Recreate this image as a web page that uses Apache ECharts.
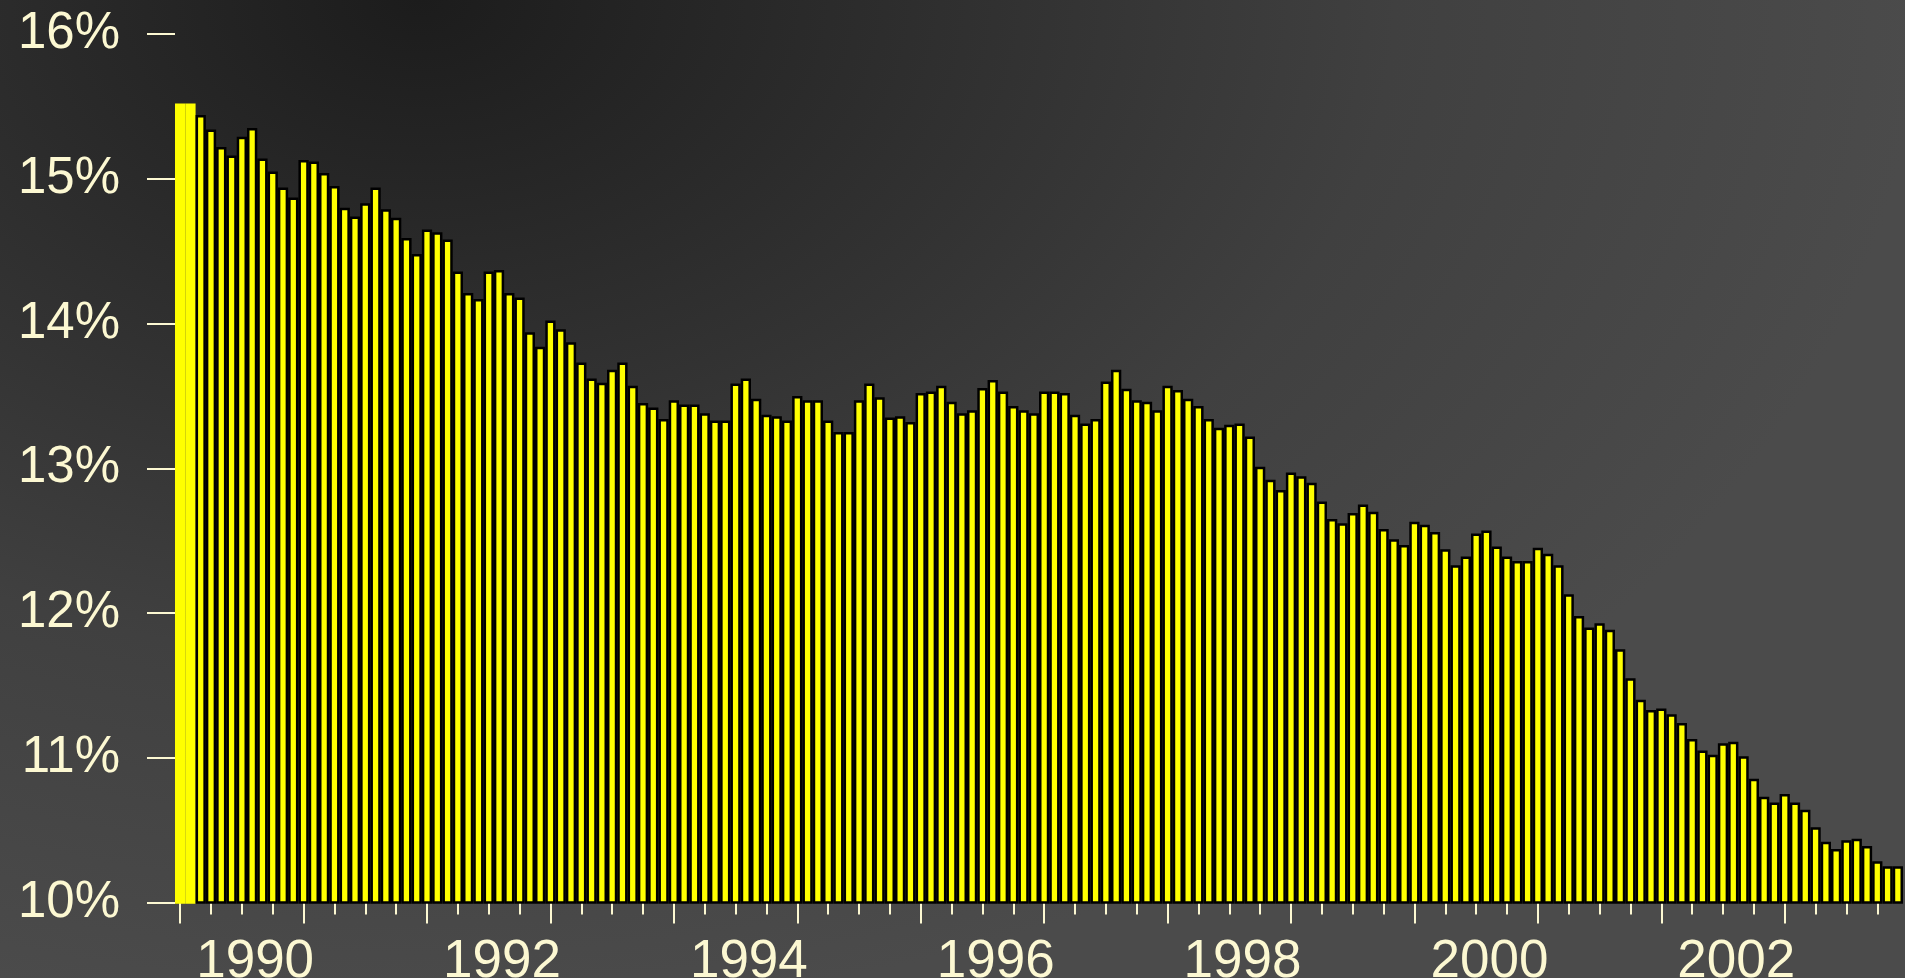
<!DOCTYPE html>
<html>
<head>
<meta charset="utf-8">
<title>Monthly rate 1989-2003</title>
<script src="https://cdn.jsdelivr.net/npm/echarts@6/dist/echarts.min.js"></script>
<style>
html, body { margin: 0; padding: 0; width: 100%; height: 100%; overflow: hidden; background: #4b4b4b; }
#chart {
    width: 1905px;
    height: 978px;
    background: radial-gradient(1500px 1020px at 420px 0px, #1c1c1c 0%, #333333 42%, #404040 65%, #4b4b4b 100%);
}
</style>
</head>
<body>
<div id="chart"></div>
<script type="text/javascript">
// first bar = June 1989, one bar per month
var startYear = 1989;
var startMonth = 6;

// monthly values, in %
var rates = [
    15.52, 15.52, 15.44, 15.34, 15.22, 15.16, 15.29, 15.35, 15.14, 15.05, 14.94, 14.87,
    15.13, 15.12, 15.04, 14.95, 14.80, 14.74, 14.83, 14.94, 14.79, 14.73, 14.59, 14.48,
    14.65, 14.63, 14.58, 14.36, 14.21, 14.17, 14.36, 14.37, 14.21, 14.18, 13.94, 13.84,
    14.02, 13.96, 13.87, 13.73, 13.62, 13.59, 13.68, 13.73, 13.57, 13.45, 13.42, 13.34,
    13.47, 13.44, 13.44, 13.38, 13.33, 13.33, 13.585, 13.62, 13.48, 13.37, 13.36, 13.33,
    13.50, 13.47, 13.47, 13.33, 13.25, 13.25, 13.47, 13.585, 13.49, 13.35, 13.36, 13.32,
    13.52, 13.53, 13.57, 13.46, 13.38, 13.40, 13.555, 13.61, 13.53, 13.43, 13.40, 13.38,
    13.53, 13.53, 13.52, 13.37, 13.31, 13.34, 13.60, 13.68, 13.55, 13.47, 13.46, 13.40,
    13.57, 13.54, 13.48, 13.43, 13.34, 13.28, 13.30, 13.31, 13.22, 13.01, 12.92, 12.85,
    12.97, 12.945, 12.90, 12.77, 12.65, 12.62, 12.69, 12.75, 12.70, 12.58, 12.51, 12.47,
    12.63, 12.61, 12.56, 12.44, 12.33, 12.39, 12.55, 12.57, 12.46, 12.39, 12.36, 12.36,
    12.45, 12.41, 12.33, 12.13, 11.98, 11.90, 11.93, 11.885, 11.75, 11.55, 11.40, 11.33,
    11.34, 11.30, 11.24, 11.13, 11.05, 11.02, 11.10, 11.11, 11.01, 10.855, 10.73, 10.69,
    10.75, 10.69, 10.64, 10.52, 10.42, 10.37, 10.43, 10.44, 10.39, 10.285, 10.25, 10.25
];

var yearLabels = ['1990', '1992', '1994', '1996', '1998', '2000', '2002'];
var yMin = 10, yMax = 16, yStep = 1;

var months = [];
for (var i = 0; i < rates.length; i++) {
    var m = startMonth - 1 + i;
    var y = startYear + Math.floor(m / 12);
    var mm = (m % 12) + 1;
    months.push(y + '-' + (mm < 10 ? '0' + mm : mm));
}

function isYearLabel(idx) {
    var c = months[idx];
    return c.slice(5) === '01' && yearLabels.indexOf(c.slice(0, 4)) >= 0;
}

var cream = '#fcf8d2';
var font = "'Liberation Sans', Arial, sans-serif";

// the first two bars have no black outline in the original
var barData = [];
for (var j = 0; j < rates.length; j++) {
    var item = { value: rates[j] };
    if (j < 2) item.itemStyle = { borderColor: '#ffff00' };
    barData.push(item);
}

var chart = echarts.init(document.getElementById('chart'), null, { renderer: 'canvas' });

var option = {
    backgroundColor: 'transparent',
    animation: false,
    grid: { left: 175, right: 2, top: 34, bottom: 75.5, containLabel: false, outerBoundsMode: 'none' },
    xAxis: [
        {
            type: 'category',
            data: months,
            position: 'bottom',
            boundaryGap: true,
            axisLine: { show: false },
            axisTick: {
                show: true,
                alignWithLabel: true,
                interval: function (idx) { return idx % 3 === 0; },
                length: 12,
                lineStyle: { color: cream, width: 2 }
            },
            axisLabel: {
                show: true,
                interval: function (idx) { return isYearLabel(idx); },
                formatter: function (val) { return val.slice(0, 4); },
                color: cream,
                fontFamily: font,
                fontSize: 53,
                margin: 33,
                padding: [0, 0, 0, 6]
            },
            splitLine: { show: false }
        },
        {
            type: 'category',
            data: months,
            position: 'bottom',
            boundaryGap: true,
            axisLine: { show: false },
            axisTick: {
                show: true,
                alignWithLabel: true,
                interval: function (idx) { return idx % 12 === 0; },
                length: 21,
                lineStyle: { color: cream, width: 2 }
            },
            axisLabel: { show: false },
            splitLine: { show: false }
        }
    ],
    yAxis: {
        type: 'value',
        min: yMin,
        max: yMax,
        interval: yStep,
        axisLine: { show: false },
        axisTick: { show: true, length: 28, lineStyle: { color: cream, width: 2 } },
        axisLabel: {
            formatter: '{value}%',
            color: cream,
            fontFamily: font,
            fontSize: 51,
            margin: 55
        },
        splitLine: { show: false }
    },
    series: [
        {
            type: 'bar',
            xAxisIndex: 0,
            data: barData,
            barCategoryGap: '0%',
            itemStyle: { color: '#ffff00', borderColor: '#000000', borderWidth: 2.5 }
        }
    ]
};

chart.setOption(option);
</script>
</body>
</html>
